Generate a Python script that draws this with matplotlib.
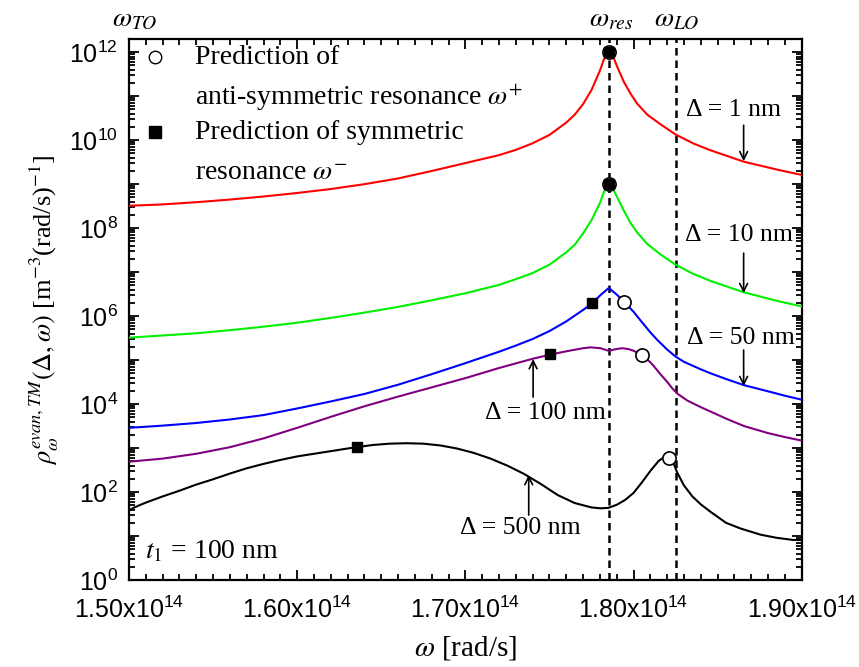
import numpy as np
import matplotlib
matplotlib.use("Agg")
import matplotlib.pyplot as plt
from matplotlib.ticker import FixedLocator, LogLocator, NullFormatter, FuncFormatter

plt.rcParams['font.family'] = ['Liberation Serif', 'DejaVu Serif']
plt.rcParams['mathtext.fontset'] = 'stix'

# ---- data (omega in units of 1e14 rad/s, values as log10 of DOS) ----
red_w = [1.50, 1.52, 1.54, 1.56, 1.58, 1.60, 1.62, 1.64, 1.66, 1.68, 1.70, 1.72, 1.73, 1.74,
         1.75, 1.76, 1.765, 1.77, 1.775, 1.78, 1.7825, 1.7853, 1.7883, 1.7903, 1.7942,
         1.7982, 1.8022, 1.8082, 1.8161, 1.825, 1.8359, 1.8458, 1.8657, 1.8855, 1.90]
red_log = [8.51, 8.54, 8.59, 8.65, 8.72, 8.80, 8.89, 9.00, 9.13, 9.30, 9.48, 9.66, 9.78, 9.93,
           10.12, 10.40, 10.58, 10.82, 11.14, 11.58, 11.85, 12.03, 11.86, 11.67, 11.33,
           11.06, 10.83, 10.58, 10.36, 10.13, 9.92, 9.77, 9.51, 9.33, 9.21]

green_w = [1.50, 1.52, 1.54, 1.56, 1.58, 1.60, 1.62, 1.64, 1.66, 1.68, 1.70, 1.72, 1.73, 1.74,
           1.75, 1.76, 1.765, 1.77, 1.775, 1.78, 1.7825, 1.7853, 1.7883, 1.7903, 1.7942,
           1.7982, 1.8022, 1.8082, 1.8161, 1.825, 1.835, 1.8458, 1.8657, 1.885, 1.90]
green_log = [5.51, 5.56, 5.61, 5.68, 5.76, 5.85, 5.96, 6.08, 6.21, 6.36, 6.52, 6.71, 6.84, 6.98,
             7.17, 7.45, 7.62, 7.88, 8.18, 8.57, 8.83, 9.01, 8.86, 8.70, 8.40,
             8.12, 7.90, 7.64, 7.40, 7.17, 6.97, 6.80, 6.54, 6.35, 6.22]

blue_w = [1.50, 1.52, 1.54, 1.56, 1.58, 1.60, 1.62, 1.64, 1.66, 1.68, 1.70, 1.72, 1.73, 1.74,
          1.75, 1.76, 1.765, 1.77, 1.7754, 1.7804, 1.7853, 1.7903, 1.7942, 1.80, 1.8042,
          1.81, 1.8141, 1.82, 1.825, 1.83, 1.84, 1.8458, 1.855, 1.8657, 1.88, 1.89, 1.90]
blue_log = [3.46, 3.51, 3.57, 3.65, 3.75, 3.90, 4.06, 4.23, 4.44, 4.68, 4.93, 5.19, 5.33, 5.48,
            5.66, 5.88, 6.01, 6.14, 6.29, 6.48, 6.64, 6.48, 6.33, 6.10, 5.90,
            5.63, 5.46, 5.24, 5.08, 4.96, 4.79, 4.70, 4.57, 4.43, 4.29, 4.19, 4.10]

purple_w = [1.50, 1.52, 1.54, 1.56, 1.58, 1.60, 1.62, 1.64, 1.66, 1.68, 1.70, 1.72, 1.74, 1.75,
            1.76, 1.77, 1.7744, 1.7804, 1.7853, 1.7895, 1.7933, 1.797, 1.8002, 1.8052, 1.81,
            1.8121, 1.816, 1.8201, 1.823, 1.826, 1.832, 1.84, 1.8458, 1.855, 1.8657, 1.88,
            1.89, 1.90]
purple_log = [2.69, 2.76, 2.87, 3.02, 3.22, 3.46, 3.71, 3.95, 4.17, 4.38, 4.59, 4.82, 5.03, 5.12,
              5.20, 5.27, 5.29, 5.27, 5.21, 5.25, 5.27, 5.25, 5.21, 5.11, 4.95,
              4.86, 4.68, 4.50, 4.36, 4.24, 4.08, 3.93, 3.83, 3.67, 3.50, 3.34,
              3.25, 3.17]

black_w = [1.50, 1.505, 1.51, 1.52, 1.53, 1.54, 1.55, 1.56, 1.57, 1.58, 1.59, 1.60, 1.61, 1.62,
           1.63, 1.6353, 1.645, 1.655, 1.665, 1.675, 1.685, 1.695, 1.705, 1.715, 1.725, 1.735,
           1.745, 1.755, 1.765, 1.775, 1.7804, 1.785, 1.79, 1.795, 1.80, 1.805, 1.81, 1.815,
           1.818, 1.821, 1.8235, 1.826, 1.83, 1.835, 1.84, 1.8458, 1.855, 1.8637, 1.8756,
           1.885, 1.895, 1.90]
black_log = [1.59, 1.68, 1.76, 1.90, 2.03, 2.17, 2.29, 2.42, 2.54, 2.64, 2.73, 2.81, 2.87, 2.93,
             2.99, 3.02, 3.07, 3.10, 3.11, 3.10, 3.06, 2.99, 2.89, 2.76, 2.60, 2.41,
             2.18, 1.93, 1.75, 1.65, 1.63, 1.64, 1.71, 1.82, 1.98, 2.22, 2.48, 2.71,
             2.79, 2.81, 2.68, 2.44, 2.15, 1.90, 1.72, 1.55, 1.30, 1.17, 1.03,
             0.96, 0.91, 0.91]

sym_w = [1.7853, 1.7853, 1.7754, 1.7502, 1.6353]
sym_log = [12.0, 9.0, 6.29, 5.13, 3.02]
anti_w = [1.7853, 1.7853, 1.7942, 1.8052, 1.821]
anti_log = [12.0, 9.0, 6.33, 5.11, 2.78]

w_res = 1.7853
w_LO = 1.8254

series = [
    (red_w, red_log, '#ff0000'),
    (green_w, green_log, '#00f000'),
    (blue_w, blue_log, '#0000ff'),
    (purple_w, purple_log, '#800080'),
    (black_w, black_log, '#000000'),
]

S = 1e14

def P(w, lg):
    return np.asarray(w) * S, 10.0 ** np.asarray(lg)

fig = plt.figure(figsize=(8.59, 6.67), dpi=100)
ax = fig.add_axes([129/859, 1 - 580/667, (801.7 - 129)/859, (580 - 39)/667])

for w, lg, c in series:
    x, y = P(w, lg)
    ax.plot(x, y, color=c, lw=1.5, zorder=3)

for wl in (w_res, w_LO):
    ax.axvline(wl * S, color='black', lw=1.8, dashes=(3, 2), zorder=2)

x, y = P(anti_w, anti_log)
ax.plot(x, y, 'o', ms=9.5, mfc='white', mec='black', mew=1.2, ls='none', zorder=5)
x, y = P(sym_w, sym_log)
ax.plot(x, y, 's', ms=7.5, mfc='black', mec='black', ls='none', zorder=6)

ax.set_yscale('log')
ax.set_xlim(1.50 * S, 1.90 * S)
ax.set_ylim(1, 2e12)

# ticks
xt = [1.50, 1.60, 1.70, 1.80, 1.90]
ax.xaxis.set_major_locator(FixedLocator([v * S for v in xt]))
ax.xaxis.set_minor_locator(FixedLocator([(1.50 + 0.01 * i) * S for i in range(41)]))
ax.xaxis.set_major_formatter(FuncFormatter(
    lambda v, p: r'$\mathregular{%.2fx10^{14}}$' % (v / S)))
ydec = list(range(0, 13))
ax.yaxis.set_major_locator(FixedLocator([10.0 ** k for k in ydec]))
ax.yaxis.set_major_formatter(FuncFormatter(
    lambda v, p: (r'$\mathregular{10^{%d}}$' % round(np.log10(v))) if round(np.log10(v)) % 2 == 0 else ''))
ax.yaxis.set_minor_locator(LogLocator(base=10, subs=np.arange(2, 10), numticks=100))
ax.yaxis.set_minor_formatter(NullFormatter())

ax.tick_params(which='both', direction='in', top=True, right=True, width=1.3)
ax.tick_params(which='major', length=7)
ax.tick_params(which='minor', length=4)
ax.tick_params(axis='y', which='major', pad=8)
ax.tick_params(axis='x', which='major', pad=12)
for lab in ax.get_xticklabels() + ax.get_yticklabels():
    lab.set_fontfamily(['Liberation Sans', 'DejaVu Sans'])
    lab.set_fontsize(18)
for s in ax.spines.values():
    s.set_linewidth(1.6)

ax.set_xlabel(r'$\omega$ [rad/s]', fontsize=21, labelpad=8)
ax.set_ylabel(r'$\rho_{\omega}^{evan,TM}$$(\Delta,\omega)$ [m$^{-3}$(rad/s)$^{-1}$]',
              fontsize=19, labelpad=6)

def pt(px, py):
    return (1.5 + (px - 129) / 1680.0) * S, 10.0 ** ((580 - py) / 44.0)

# top labels
tx = ax.get_xaxis_transform()
ax.text(1.5036 * S, 1.035, r'$\omega_{TO}$', transform=tx, ha='center', va='center',
        fontsize=20, clip_on=False)
ax.text(1.7869 * S, 1.035, r'$\omega_{res}$', transform=tx, ha='center', va='center',
        fontsize=20, clip_on=False)
ax.text(1.8256 * S, 1.035, r'$\omega_{LO}$', transform=tx, ha='center', va='center',
        fontsize=20, clip_on=False)

# legend (manual)
fs_leg = 20
ax.plot(*pt(155, 57), 'o', ms=9, mfc='white', mec='black', mew=1.0)
ax.plot(*pt(155, 132), 's', ms=8.5, mfc='black', mec='black')
ax.text(*pt(195, 57), 'Prediction of', fontsize=fs_leg, va='center', ha='left')
ax.text(*pt(195, 97), r'anti-symmetric resonance $\omega^{+}$', fontsize=fs_leg, va='center', ha='left')
ax.text(*pt(195, 132), 'Prediction of symmetric', fontsize=fs_leg, va='center', ha='left')
ax.text(*pt(195, 173), r'resonance $\omega^{-}$', fontsize=fs_leg, va='center', ha='left')

# annotations
fs_ann = 18.5
aprops = dict(arrowstyle='->', lw=1.2, color='black', mutation_scale=14, shrinkA=0, shrinkB=0)
ax.text(*pt(733, 110), 'Δ = 1 nm', fontsize=fs_ann, ha='center', va='center')
ax.annotate('', xy=pt(743, 161), xytext=pt(743, 125), arrowprops=aprops)
ax.text(*pt(738, 235), 'Δ = 10 nm', fontsize=fs_ann, ha='center', va='center')
ax.annotate('', xy=pt(743, 293), xytext=pt(743, 253), arrowprops=aprops)
ax.text(*pt(740, 338), 'Δ = 50 nm', fontsize=fs_ann, ha='center', va='center')
ax.annotate('', xy=pt(743, 386), xytext=pt(743, 350), arrowprops=aprops)
ax.text(*pt(545, 413), 'Δ = 100 nm', fontsize=fs_ann, ha='center', va='center')
ax.annotate('', xy=pt(532.7, 359), xytext=pt(532.7, 397), arrowprops=aprops)
ax.text(*pt(520, 528), 'Δ = 500 nm', fontsize=fs_ann, ha='center', va='center')
ax.annotate('', xy=pt(528.3, 475), xytext=pt(528.3, 515), arrowprops=aprops)
ax.text(*pt(145, 552), r'$t_1$ = 100 nm', fontsize=20, ha='left', va='center')

fig.savefig('out.png', dpi=100)
